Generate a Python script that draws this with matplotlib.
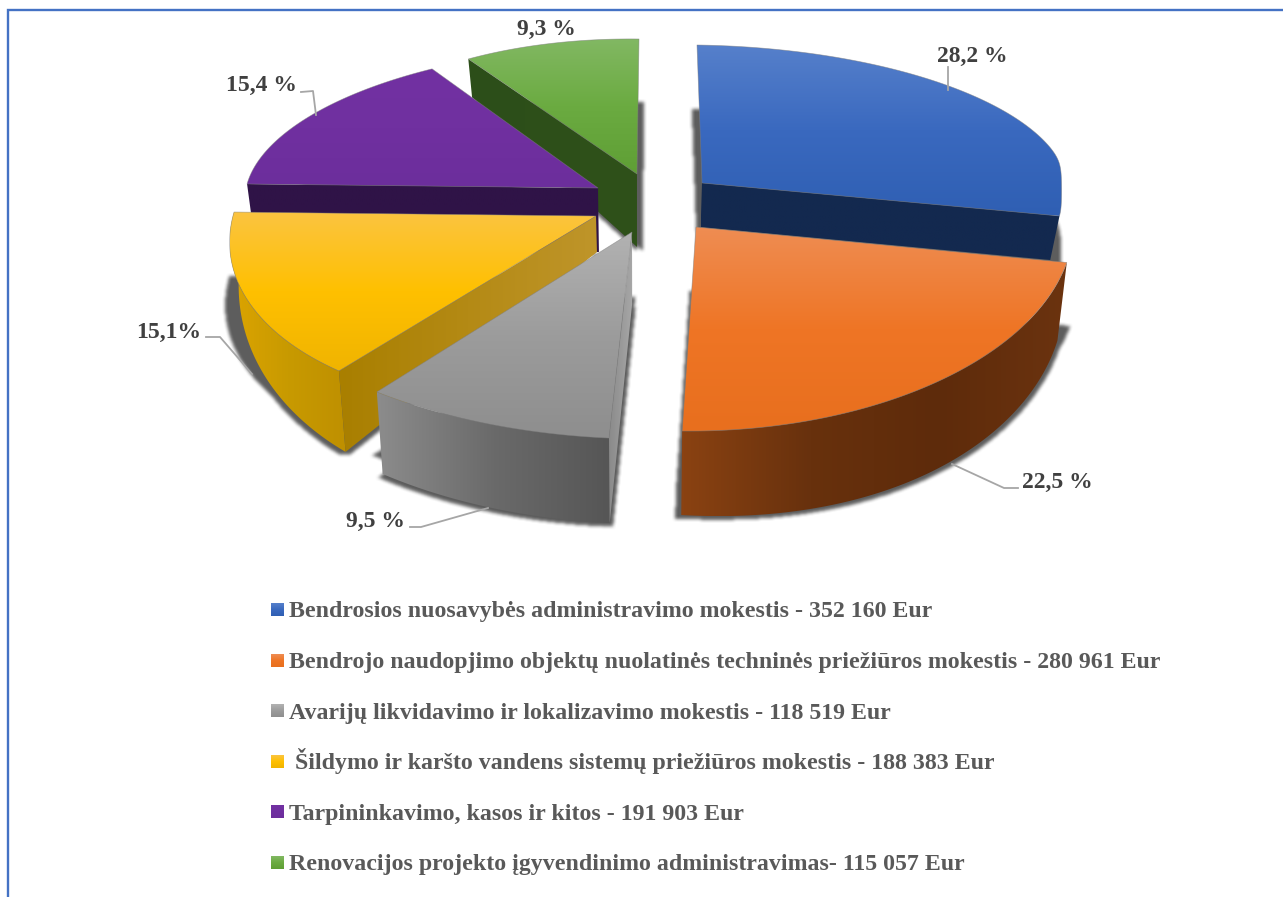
import numpy as np
import matplotlib
matplotlib.use('Agg')
import matplotlib.pyplot as plt
from matplotlib.colors import LinearSegmentedColormap
from matplotlib.patches import Polygon
from matplotlib.path import Path

# data
categories = ['Bendrosios nuosavybės administravimo mokestis - 352 160 Eur',
              'Bendrojo naudopjimo objektų nuolatinės techninės priežiūros mokestis - 280 961 Eur',
              'Avarijų likvidavimo ir lokalizavimo mokestis - 118 519 Eur',
              ' Šildymo ir karšto vandens sistemų priežiūros mokestis - 188 383 Eur',
              'Tarpininkavimo, kasos ir kitos - 191 903 Eur',
              'Renovacijos projekto įgyvendinimo administravimas- 115 057 Eur']
amounts = [352160, 280961, 118519, 188383, 191903, 115057]
pct_labels = ['28,2 %', '22,5 %', '9,5 %', '15,1%', '15,4 %', '9,3 %']

# look of each slice: apex, the two ellipse axes, depth at the apex, depth growth with y
apex = [(702, 183), (696, 227), (632, 232), (596, 216), (598, 188), (637, 174)]
axis_u = [(365.7, 5.2), (377.7, -5.9), (420.6, 8.5), (363.2, -0.7), (351.8, 0.6), (311, 3.8)]
axis_v = [(-5, -138), (-4.5, -204), (2.6, -206.7), (48.2, -193.5), (32, -142), (2, -135)]
depth0 = [44, 77, 71.6, 36, 64, 73]
depth_k = [0, 0.034, 0.065, 0.29, 0, 0.3]
bulge = [0, 8, 0, 0, 0, 0]
x_limit = [1062, None, None, None, None, None]
arc_wall = [False, True, True, True, False, False]
cut_face = [-1, None, 0, 0, 0, 0]
shadow_side = [(2, 0), (3, 2), (2, 2), (2, 2), (0, 0), (0, 3)]
top_cols = [['#5680cb', '#3a69bf', '#2f5fb3'],
            ['#ee8d53', '#ef7525', '#e86f1e'],
            ['#b2b2b2', '#9c9c9c', '#8e8e8e'],
            ['#fbc440', '#ffc000', '#f0b400'],
            ['#7231a2', '#7030a0', '#6c2e9c'],
            ['#82b863', '#6bab41', '#5f9f35']]
arc_cols = [['#13294f', '#13294f'],
            ['#8a4212', '#68310d', '#5e2b0b', '#6b330f'],
            ['#8c8c8c', '#6a6a6a', '#565656'],
            ['#dca400', '#c89a00', '#bf9000'],
            ['#2f1347', '#2f1347'],
            ['#2f4f1a', '#2f4f1a']]
face_cols = [['#13294f', '#13294f'], ['#7f3b10', '#6a300d'], ['#8a8a8a', '#a8a8a8'],
             ['#a97f00', '#bf952a'], ['#2f1347', '#2f1347'], ['#2c4e1a', '#2f5119']]
label_pos = [(972, 55), (1057, 481), (376, 520), (169, 331), (261, 84), (546, 28)]
leaders = [[(948, 67), (948, 90)],
           [(1018, 488), (1004, 488), (952, 464)],
           [(410, 527), (421, 527), (488, 508)],
           [(206, 337), (220, 337), (252, 374)],
           [(301, 92), (313, 91), (316, 115)]]
draw_order = [5, 4, 0, 3, 2, 1]
row_y = [609.5, 660.5, 710.5, 761.5, 812, 862.5]
row_base = [617.5, 668, 719, 769, 820, 870]
grey_text = '#595959'
serif = 'Liberation Serif'

fig = plt.figure(figsize=(12.83, 8.97), dpi=100)
ax = fig.add_axes([0, 0, 1, 1])


def grad_fill(poly, cols, vertical, z):
    poly = np.asarray(poly)
    patch = Polygon(poly, closed=True, fc='none', ec='none')
    ax.add_patch(patch)
    cmap = LinearSegmentedColormap.from_list('g', cols)
    ramp = np.linspace(0, 1, 128)
    arr = ramp[:, None] if vertical else ramp[None, :]
    x0, y0 = poly.min(axis=0)
    x1, y1 = poly.max(axis=0)
    im = ax.imshow(arr, cmap=cmap, extent=(x0, x1, y1, y0), aspect='auto', zorder=z,
                   interpolation='bilinear', vmin=0, vmax=1)
    im.set_clip_path(patch)


def box_blur(a, r):
    p = r + 1
    a = np.pad(a, p)
    for axis in (0, 1):
        c = np.cumsum(a, axis=axis)
        a = (np.roll(c, -r, axis=axis) - np.roll(c, r, axis=axis)) / (2 * r)
    return a[p:-p, p:-p]


def shadow(top, body, side, z):
    xs, ys = np.meshgrid(np.arange(0, 1283, 1), np.arange(0, 897, 1))
    pts = np.column_stack([xs.ravel(), ys.ravel()])
    shifted = Path(top + [0, 64]).contains_points(pts).reshape(xs.shape)
    lower = Path(body + [0, 4]).contains_points(pts).reshape(xs.shape)
    # the wall part only throws shadow below the 64 px line of the top face
    mask = shifted | (lower & (ys > top[:, 1].min() + 64))
    mask = mask | np.roll(mask, -2 * side[0], axis=1) | np.roll(mask, 2 * side[1], axis=1)
    soft = box_blur(box_blur(mask.astype(float), 2), 2)
    rgba = np.zeros(soft.shape + (4,))
    rgba[..., :3] = 0.12
    rgba[..., 3] = soft * 0.72
    ax.imshow(rgba, extent=(0, 1283, 897, 0), aspect='auto', zorder=z, interpolation='bilinear')


def drop(pts, i):
    d = depth0[i] + depth_k[i] * (pts[:, 1] - apex[i][1])
    if len(pts) > 2:
        d = d + bulge[i] * np.sin(np.pi * np.linspace(0, 1, len(pts)))
    return pts + np.column_stack([(640 - pts[:, 0]) * 0.022, d])


angles = np.array(amounts) / sum(amounts) * 360
edges = 90 - np.concatenate([[0], np.cumsum(angles)])

for n, i in enumerate(draw_order):
    z = 2 + n * 4
    t = np.radians(np.linspace(edges[i], edges[i + 1], 120))
    a = np.array(apex[i], dtype=float)
    arc = a + np.outer(np.cos(t), axis_u[i]) + np.outer(np.sin(t), axis_v[i])
    if x_limit[i] is not None:
        arc[:, 0] = x_limit[i] - 3 * np.log1p(np.exp((x_limit[i] - arc[:, 0]) / 3))
    top = np.vstack([a, arc])
    low = drop(arc, i)
    shadow(top, np.vstack([drop(a[None, :], i), low]), shadow_side[i], z)

    if arc_wall[i]:
        grad_fill(np.vstack([arc, low[::-1]]), arc_cols[i], False, z + 1)
    if cut_face[i] is not None:
        quad = np.vstack([a, arc[cut_face[i]]])
        grad_fill(np.vstack([quad, drop(quad, i)[::-1]]), face_cols[i], False, z + 1)
    grad_fill(top, top_cols[i], True, z + 2)
    ax.add_patch(Polygon(top, closed=True, fc='none', ec='#7f7f7f', lw=0.5, alpha=0.6, zorder=z + 2))

for pts in leaders:
    pts = np.array(pts)
    ax.plot(pts[:, 0], pts[:, 1], color='#a6a6a6', lw=1.3, zorder=40)

for lab, (x, y) in zip(pct_labels, label_pos):
    ax.text(x, y + 1, lab, ha='center', va='center', fontsize=17, fontweight='bold',
            family=serif, color='#404040', zorder=41)

for lab, y, base, cols in zip(categories, row_y, row_base, top_cols):
    grad_fill([(271, y - 6.5), (284, y - 6.5), (284, y + 6.5), (271, y + 6.5)], cols, True, 42)
    ax.text(289, base, lab, ha='left', va='baseline', fontsize=17.2, fontweight='bold',
            family=serif, color=grey_text, zorder=42)

# page frame
ax.plot([7.5, 7.5, 1283], [897, 10, 10], color='#4472c4', lw=1.7, zorder=50,
        solid_joinstyle='miter')

ax.set_xlim(0, 1283)
ax.set_ylim(897, 0)
ax.axis('off')
fig.savefig('out.png', dpi=100, facecolor='white')
